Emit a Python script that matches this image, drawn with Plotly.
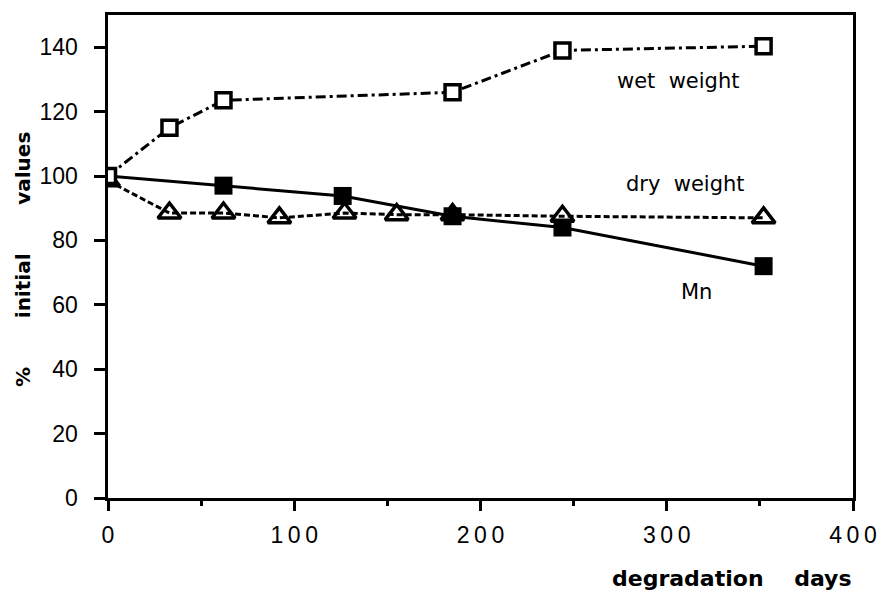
import plotly.graph_objects as go

wet_days = [0, 33, 62, 185, 244, 352]
wet_vals = [100, 115, 123.5, 126, 139, 140.3]

dry_days = [0, 33, 62, 92, 127, 155, 185, 244, 352]
dry_vals = [98.5, 88.5, 88.5, 87, 88.5, 88, 88, 87.5, 87]

mn_days = [0, 62, 126, 185, 244, 352]
mn_vals = [100, 97, 93.8, 87.5, 84, 72]

x_ticks = [0, 100, 200, 300, 400]
y_ticks = [0, 20, 40, 60, 80, 100, 120, 140]

FONT = "Liberation Sans, Arial, sans-serif"
DV = "DejaVu Sans, sans-serif"

L, R, T, B = 108, 27, 15, 95
PW = 880 - L - R
PH = 593 - T - B

fig = go.Figure()
fig.add_trace(go.Scatter(
    x=dry_days, y=dry_vals, mode="lines+markers",
    line=dict(color="black", width=3, dash="6px,3px"),
    marker=dict(symbol="triangle-up-open", size=20, color="black", line=dict(width=3.5, color="black")),
    showlegend=False))
fig.add_trace(go.Scatter(
    x=mn_days, y=mn_vals, mode="lines+markers",
    line=dict(color="black", width=3),
    marker=dict(symbol="square", size=18, color="black"),
    showlegend=False))
fig.add_trace(go.Scatter(
    x=wet_days, y=wet_vals, mode="lines+markers",
    line=dict(color="black", width=3, dash="10px,4px,3px,4px"),
    marker=dict(symbol="square", size=15, color="white", line=dict(width=3.5, color="black")),
    showlegend=False))

fig.add_annotation(x=306, y=129.5, text="wet  weight", showarrow=False,
                   font=dict(family=DV, size=21, color="black"))
fig.add_annotation(x=310, y=97.5, text="dry  weight", showarrow=False,
                   font=dict(family=DV, size=21, color="black"))
fig.add_annotation(x=316, y=64, text="Mn", showarrow=False,
                   font=dict(family=DV, size=21, color="black"))
fig.add_annotation(xref="paper", yref="paper", x=1.0, y=-(578 - (T + PH)) / PH, xanchor="right", yanchor="middle",
                   text="<b>degradation    days</b>", showarrow=False, borderpad=0,
                   font=dict(family=DV, size=22, color="black"))
fig.add_annotation(xref="paper", yref="paper", x=-(L - 23) / PW, y=1 - (260 - T) / PH,
                   xanchor="center", yanchor="middle", textangle=-90,
                   text="<b>%       initial       values</b>", showarrow=False,
                   font=dict(family=DV, size=20, color="black"))

fig.update_layout(
    width=880, height=593,
    margin=dict(l=L, r=R, t=T, b=B, autoexpand=False),
    plot_bgcolor="white", paper_bgcolor="white",
    font=dict(family=FONT, color="black"),
    xaxis=dict(range=[0, 400], tickvals=x_ticks, automargin=False,
               ticktext=["\u2009".join(str(v)) for v in x_ticks],
               showgrid=False, zeroline=False,
               showline=True, linewidth=3, linecolor="black", mirror=True,
               ticks="outside", ticklen=10, tickwidth=3, tickcolor="black",
               ticklabelstandoff=4,
               minor=dict(dtick=50, ticks="outside", ticklen=5, tickwidth=2.5, tickcolor="black"),
               tickfont=dict(size=23, family=FONT)),
    yaxis=dict(range=[0, 150], tickvals=y_ticks, automargin=False,
               ticktext=[f"{v}\u2002\u200b" for v in y_ticks],
               showgrid=False, zeroline=False,
               showline=True, linewidth=3, linecolor="black", mirror=True,
               ticks="outside", ticklen=11, tickwidth=3, tickcolor="black",
               tickfont=dict(size=23, family=FONT)),
)

fig.write_html("out.html")
